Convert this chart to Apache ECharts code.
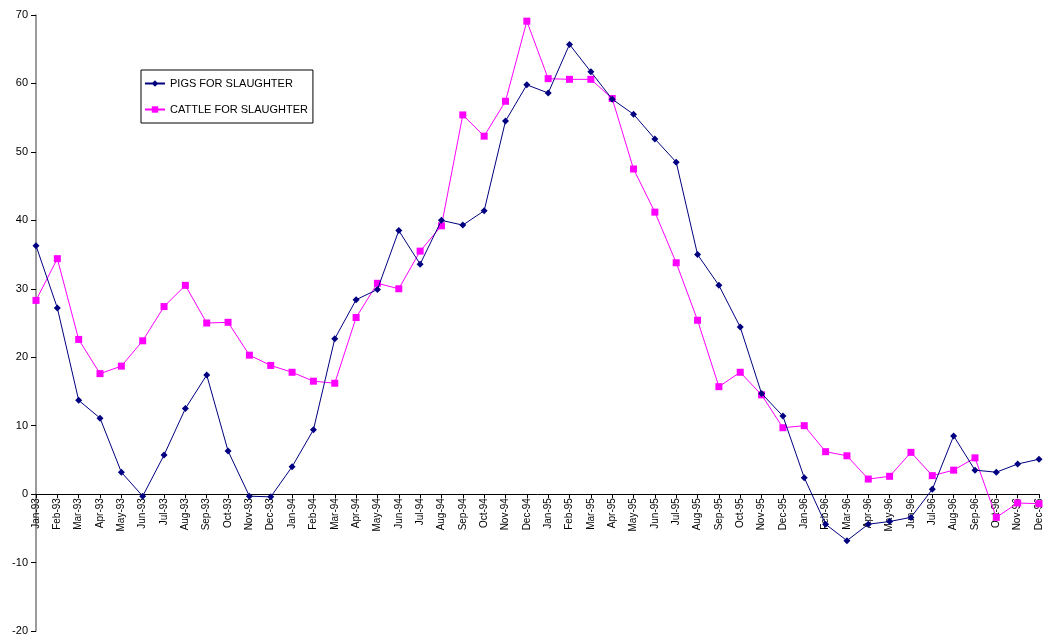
<!DOCTYPE html>
<html>
<head>
<meta charset="utf-8">
<script src="https://cdn.jsdelivr.net/npm/echarts@6/dist/echarts.min.js"></script>
<style>
  html, body { margin: 0; padding: 0; background: #fff; }
  #chart { width: 1049px; height: 641px; }
</style>
</head>
<body>
<div id="chart"></div>
<script>
// Monthly categories, Jan-93 .. Dec-96
const months = [
  'Jan-93','Feb-93','Mar-93','Apr-93','May-93','Jun-93','Jul-93','Aug-93','Sep-93','Oct-93','Nov-93','Dec-93',
  'Jan-94','Feb-94','Mar-94','Apr-94','May-94','Jun-94','Jul-94','Aug-94','Sep-94','Oct-94','Nov-94','Dec-94',
  'Jan-95','Feb-95','Mar-95','Apr-95','May-95','Jun-95','Jul-95','Aug-95','Sep-95','Oct-95','Nov-95','Dec-95',
  'Jan-96','Feb-96','Mar-96','Apr-96','May-96','Jun-96','Jul-96','Aug-96','Sep-96','Oct-96','Nov-96','Dec-96'
];

const pigs = [
  36.3, 27.2, 13.7, 11.1, 3.2, -0.3, 5.7, 12.5, 17.4, 6.3, -0.3, -0.4,
  4.0, 9.4, 22.7, 28.4, 29.9, 38.5, 33.6, 40.0, 39.3, 41.4, 54.5, 59.8,
  58.6, 65.7, 61.7, 57.7, 55.5, 51.9, 48.5, 35.0, 30.5, 24.4, 14.7, 11.4,
  2.4, -4.4, -6.8, -4.4, -4.0, -3.4, 0.7, 8.5, 3.5, 3.2, 4.4, 5.1
];

const cattle = [
  28.3, 34.4, 22.6, 17.6, 18.7, 22.4, 27.4, 30.5, 25.0, 25.1, 20.3, 18.8,
  17.8, 16.5, 16.2, 25.8, 30.8, 30.0, 35.5, 39.2, 55.4, 52.3, 57.4, 69.1,
  60.7, 60.6, 60.6, 57.8, 47.5, 41.2, 33.8, 25.4, 15.7, 17.8, 14.5, 9.7,
  10.0, 6.2, 5.6, 2.2, 2.6, 6.1, 2.7, 3.5, 5.3, -3.4, -1.3, -1.4
];

const yMin = -20, yMax = 70, yStep = 10;

const W = 1049, H = 641;
const gridTop = 15, gridBottom = 10;
const plotH = H - gridTop - gridBottom;
// The category axis sits on the zero line, labels included
const zeroOffset = -plotH * (0 - yMin) / (yMax - yMin);

const chart = echarts.init(document.getElementById('chart'), null, { renderer: 'canvas' });

chart.setOption({
  animation: false,
  backgroundColor: '#ffffff',
  textStyle: { fontFamily: 'Liberation Sans, Arial, sans-serif' },
  grid: { left: 36, right: 10, top: gridTop, bottom: gridBottom, containLabel: false, outerBoundsMode: 'none' },
  legend: {
    orient: 'vertical',
    left: 141,
    top: 70,
    padding: [8, 5, 8, 3],
    itemGap: 15,
    itemWidth: 20,
    itemHeight: 8,
    borderColor: '#000',
    borderWidth: 1,
    backgroundColor: '#fff',
    textStyle: { fontSize: 11, color: '#000', fontFamily: 'Liberation Sans, Arial, sans-serif' },
    data: ['PIGS FOR SLAUGHTER', 'CATTLE FOR SLAUGHTER']
  },
  xAxis: {
    type: 'category',
    data: months,
    boundaryGap: false,
    position: 'bottom',
    offset: zeroOffset,
    axisLine: { onZero: false, lineStyle: { color: '#000', width: 1 } },
    axisTick: { show: true, alignWithLabel: true, length: 4, lineStyle: { color: '#000' } },
    axisLabel: {
      interval: 0,
      rotate: 90,
      fontSize: 10,
      color: '#000',
      margin: 4,
      fontFamily: 'Liberation Sans, Arial, sans-serif'
    },
    splitLine: { show: false }
  },
  yAxis: {
    type: 'value',
    min: yMin,
    max: yMax,
    interval: yStep,
    axisLine: { show: true, lineStyle: { color: '#7a7a7a', width: 1.5 } },
    axisTick: { show: true, length: 5, lineStyle: { color: '#000' } },
    axisLabel: { fontSize: 11, color: '#000', margin: 8, fontFamily: 'Liberation Sans, Arial, sans-serif' },
    splitLine: { show: false }
  },
  series: [
    {
      name: 'PIGS FOR SLAUGHTER',
      type: 'line',
      data: pigs,
      symbol: 'diamond',
      symbolSize: 7,
      showAllSymbol: true,
      lineStyle: { color: '#000080', width: 1 },
      itemStyle: { color: '#000080' },
      z: 3
    },
    {
      name: 'CATTLE FOR SLAUGHTER',
      type: 'line',
      data: cattle,
      symbol: 'rect',
      symbolSize: 7,
      showAllSymbol: true,
      lineStyle: { color: '#ff00ff', width: 1 },
      itemStyle: { color: '#ff00ff' },
      z: 2
    }
  ]
});
</script>
</body>
</html>
